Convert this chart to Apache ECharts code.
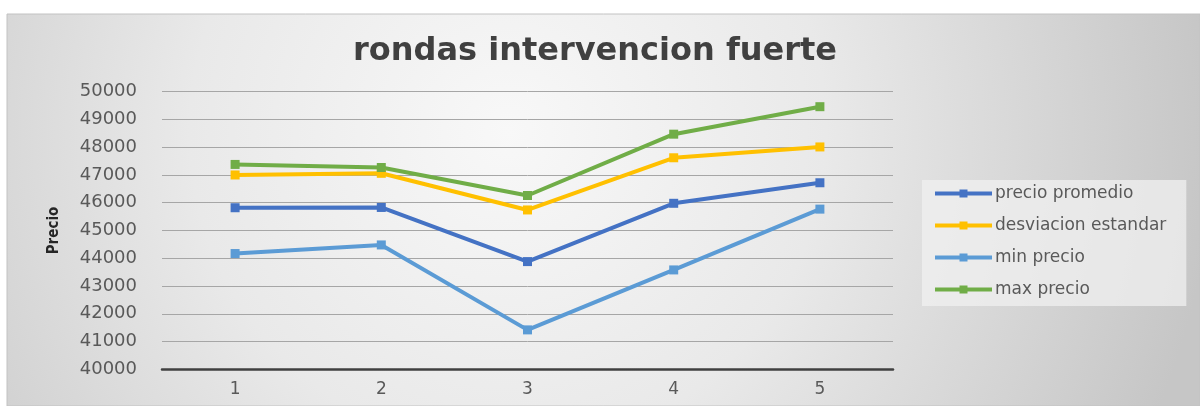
<!DOCTYPE html>
<html>
<head>
<meta charset="utf-8">
<title>rondas intervencion fuerte</title>
<script src="https://cdn.jsdelivr.net/npm/echarts@6/dist/echarts.min.js"></script>
<style>
  html, body { margin: 0; padding: 0; background: #fff; }
  #chart { width: 1200px; height: 406px; }
</style>
</head>
<body>
<div id="chart"></div>
<script>
// data
const rounds = ['1', '2', '3', '4', '5'];
const precioPromedio = [45820, 45830, 43880, 45980, 46720];
const desviacionEstandar = [47000, 47060, 45740, 47620, 48010];
const minPrecio = [44170, 44480, 41420, 43580, 45770];
const maxPrecio = [47380, 47270, 46260, 48470, 49460];

const seriesNames = ['precio promedio', 'desviacion estandar', 'min precio', 'max precio'];
const seriesColors = ['#4472C4', '#FFC000', '#5B9BD5', '#70AD47'];
const seriesData = [precioPromedio, desviacionEstandar, minPrecio, maxPrecio];

const chart = echarts.init(document.getElementById('chart'), null, { renderer: 'canvas' });

const font = 'DejaVu Sans';

const options = {
  animation: false,
  graphic: [
    {
      type: 'rect',
      z: -10,
      shape: { x: 7, y: 14, width: 1193, height: 392 },
      style: {
        fill: new echarts.graphic.RadialGradient(0.42, 0.3, 1.8, [
          { offset: 0, color: '#f8f8f8' },
          { offset: 0.45, color: '#e9e9e9' },
          { offset: 1, color: '#c6c6c6' }
        ]),
        stroke: '#c2c2c2',
        lineWidth: 1
      }
    }
  ],
  title: {
    text: 'rondas intervencion fuerte',
    left: 590,
    textAlign: 'center',
    top: 31,
    textStyle: {
      fontFamily: font,
      fontWeight: 'bold',
      fontSize: 32,
      color: '#404040'
    }
  },
  legend: {
    orient: 'vertical',
    left: 922,
    top: 180,
    padding: [5, 20, 8, 11],
    itemGap: 15,
    itemWidth: 57,
    itemHeight: 10,
    backgroundColor: 'rgba(240,240,240,0.75)',
    data: seriesNames,
    lineStyle: { width: 4 },
    textStyle: {
      fontFamily: font,
      fontSize: 17,
      color: '#595959',
      padding: [0, 0, 0, -2]
    }
  },
  grid: {
    left: 162,
    right: 307,
    top: 91.7,
    bottom: 36.7
  },
  xAxis: {
    type: 'category',
    boundaryGap: true,
    data: rounds,
    axisLine: { lineStyle: { color: '#404040', width: 2.5 } },
    axisTick: { show: false },
    axisLabel: {
      margin: 12,
      fontFamily: font,
      fontSize: 17,
      color: '#595959'
    }
  },
  yAxis: {
    type: 'value',
    min: 40000,
    max: 50000,
    interval: 1000,
    name: 'Precio',
    nameLocation: 'middle',
    nameGap: 100,
    nameTextStyle: {
      fontFamily: 'DejaVu Sans Condensed',
      fontWeight: 'bold',
      fontSize: 15,
      color: '#262626'
    },
    axisLine: { show: false },
    axisTick: { show: false },
    splitLine: { lineStyle: { color: '#a6a6a6', width: 1 } },
    axisLabel: {
      margin: 25,
      fontFamily: font,
      fontSize: 18,
      color: '#595959',
      formatter: (v) => String(v)
    }
  },
  series: seriesNames.map((name, i) => ({
    name: name,
    type: 'line',
    data: seriesData[i],
    symbol: 'rect',
    symbolSize: 9,
    showAllSymbol: true,
    color: seriesColors[i],
    lineStyle: { width: 4, color: seriesColors[i] },
    itemStyle: { color: seriesColors[i] }
  }))
};

chart.setOption(options);
</script>
</body>
</html>
